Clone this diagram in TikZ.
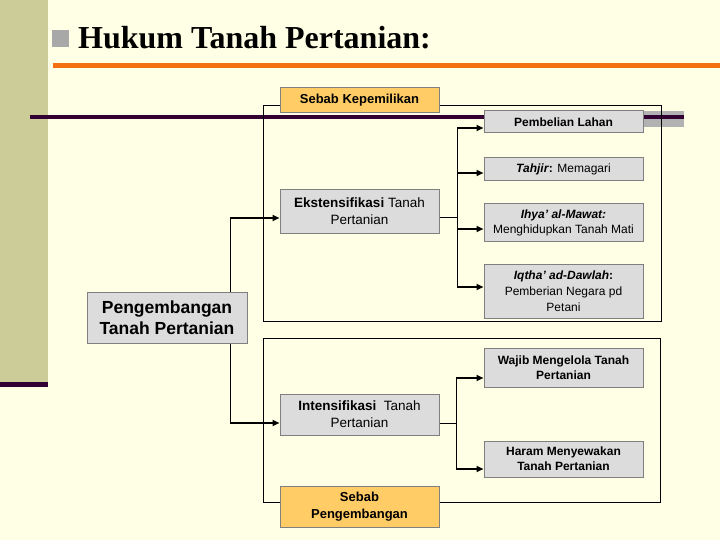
\documentclass[tikz,border=0pt]{standalone}
\usepackage{fontspec}
\setmainfont{Liberation Sans}
\newfontfamily\titlefont{Liberation Serif}
\usetikzlibrary{arrows.meta}
\definecolor{bgcream}{HTML}{FFFFE5}
\definecolor{olivebar}{HTML}{CCCC99}
\definecolor{darkplum}{HTML}{330033}
\definecolor{orangeline}{HTML}{F36F10}
\definecolor{graybar}{HTML}{B2B2B2}
\definecolor{bulletgray}{HTML}{A8A8A8}
\definecolor{boxgray}{HTML}{DCDCDC}
\definecolor{boxorange}{HTML}{FFCC66}
\definecolor{boxborder}{HTML}{808080}
\tikzset{
  basebox/.style={draw=boxborder, line width=1pt, inner sep=0pt, align=center, text=black},
  graybox/.style={basebox, fill=boxgray, minimum width=159pt},
  orangebox/.style={basebox, fill=boxorange, minimum width=159pt},
  small/.style={font=\fontsize{12}{14.8}\selectfont},
  smallbold/.style={font=\fontsize{12}{14.8}\selectfont\bfseries},
  mid/.style={font=\fontsize{13.5}{17}\selectfont},
  midbold/.style={font=\fontsize{13}{17}\selectfont\bfseries},
  big/.style={font=\fontsize{17.5}{21}\selectfont\bfseries},
  arr/.style={line width=2pt, -{Triangle[length=7pt,width=6pt]}},
  trunk/.style={line width=1pt},
  group/.style={line width=1pt, draw=black}
}
\begin{document}
\begin{tikzpicture}[x=1pt,y=-1pt]
\useasboundingbox (0,0) rectangle (720,540);
\fill[bgcream] (0,0) rectangle (720,540);
% decorations
\fill[olivebar] (0,0) rectangle (48,382);
\fill[darkplum] (0,382) rectangle (48,387);
\fill[bulletgray] (52,30) rectangle (69,47);
\node[anchor=base west, inner sep=0pt, font=\titlefont\bfseries\fontsize{32}{32}\selectfont] (title) at (78,49) {Hukum Tanah Pertanian:};
\fill[orangeline] (53,63.5) rectangle (720,68.5);
\fill[graybar] (643,111) rectangle (684,127);
\fill[darkplum] (30,115) rectangle (684,119);
% group frames
\draw[group] (263,106) rectangle (661,321);
\draw[group] (263,338) rectangle (660,502);
% nodes
\node[orangebox, minimum height=25pt, midbold] (sk) at (359.5,100.5) {Sebab Kepemilikan};
\node[graybox, minimum height=22pt, smallbold] (pl) at (563.5,122) {Pembelian Lahan};
\node[graybox, small, minimum height=23pt] (tj) at (563.5,169.5) {\textbf{\textit{Tahjir}:} Memagari};
\node[graybox, small, minimum height=37pt] (ih) at (563.5,222.5) {\textbf{\textit{Ihya’ al-Mawat:}}\\Menghidupkan Tanah Mati};
\node[graybox, minimum height=54pt, font=\fontsize{12}{16}\selectfont] (iq) at (563.5,291) {\textbf{\textit{Iqtha’ ad-Dawlah}:}\\Pemberian Negara pd\\Petani};
\node[graybox, mid, minimum height=43pt] (ek) at (359.5,211.5) {\textbf{Ekstensifikasi} Tanah\\Pertanian};
\node[graybox, big, minimum width=160pt, minimum height=51pt] (pg) at (167,317.5) {Pengembangan\\Tanah Pertanian};
\node[graybox, minimum height=39pt, smallbold] (wj) at (563.5,367.5) {Wajib Mengelola Tanah\\Pertanian};
\node[graybox, mid, minimum height=41pt] (in) at (359.5,414.5) {\textbf{Intensifikasi}\ \ Tanah\\Pertanian};
\node[graybox, minimum height=36pt, smallbold] (hm) at (563.5,459) {Haram Menyewakan\\Tanah Pertanian};
\node[orangebox, minimum height=41pt, midbold] (sp) at (359.5,506.5) {Sebab\\Pengembangan};
% connector points
\coordinate (t0) at (230,0);
\coordinate (t1) at (457,0);
\coordinate (t2) at (456,0);
\coordinate (plin) at ([yshift=-6pt]pl.west);
\coordinate (tjin) at ([yshift=-3.5pt]tj.west);
\coordinate (ihin) at ([yshift=-6.5pt]ih.west);
\coordinate (iqin) at ([yshift=4pt]iq.west);
\coordinate (ekin) at ([yshift=-6.5pt]ek.west);
\coordinate (ekout) at ([yshift=-6.5pt]ek.east);
\coordinate (inin) at ([yshift=-8.5pt]in.west);
\coordinate (inout) at ([yshift=-8.5pt]in.east);
\coordinate (wjin) at ([yshift=-10.5pt]wj.west);
\coordinate (hmin) at ([yshift=-10pt]hm.west);
% left trunk
\draw[trunk] (pg.north -| t0) -- (t0 |- ekin);
\draw[arr] (t0 |- ekin) -- (ekin);
\draw[trunk] (pg.south -| t0) -- (t0 |- inin);
\draw[arr] (t0 |- inin) -- (inin);
% upper branch
\draw[trunk] (ekout) -- (t1 |- ekout);
\draw[trunk] (t1 |- plin) -- (t1 |- iqin);
\draw[arr] (t1 |- plin) -- (plin);
\draw[arr] (t1 |- tjin) -- (tjin);
\draw[arr] (t1 |- ihin) -- (ihin);
\draw[arr] (t1 |- iqin) -- (iqin);
% lower branch
\draw[trunk] (inout) -- (t2 |- inout);
\draw[trunk] (t2 |- wjin) -- (t2 |- hmin);
\draw[arr] (t2 |- wjin) -- (wjin);
\draw[arr] (t2 |- hmin) -- (hmin);
\end{tikzpicture}
\end{document}
